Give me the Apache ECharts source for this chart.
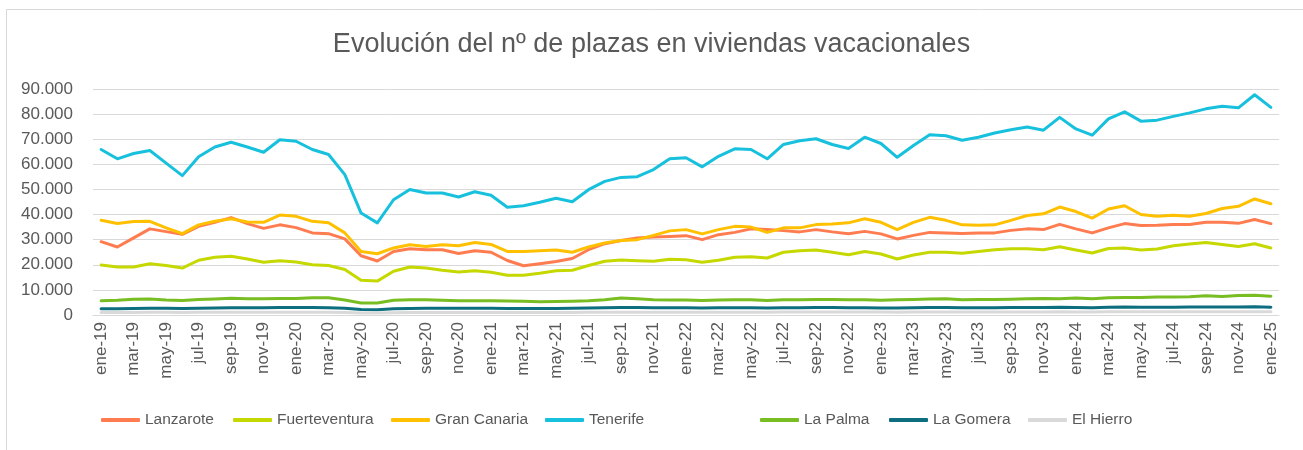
<!DOCTYPE html>
<html>
<head>
<meta charset="utf-8">
<script src="https://cdn.jsdelivr.net/npm/echarts@6/dist/echarts.min.js"></script>
<style>
  html, body { margin: 0; padding: 0; background: #ffffff; }
  #chart { width: 1303px; height: 450px; }
</style>
</head>
<body>
<div id="chart"></div>
<script>
// meses (ene-19 .. ene-25)
var meses = [
  'ene-19','feb-19','mar-19','abr-19','may-19','jun-19','jul-19','ago-19','sep-19','oct-19','nov-19','dic-19',
  'ene-20','feb-20','mar-20','abr-20','may-20','jun-20','jul-20','ago-20','sep-20','oct-20','nov-20','dic-20',
  'ene-21','feb-21','mar-21','abr-21','may-21','jun-21','jul-21','ago-21','sep-21','oct-21','nov-21','dic-21',
  'ene-22','feb-22','mar-22','abr-22','may-22','jun-22','jul-22','ago-22','sep-22','oct-22','nov-22','dic-22',
  'ene-23','feb-23','mar-23','abr-23','may-23','jun-23','jul-23','ago-23','sep-23','oct-23','nov-23','dic-23',
  'ene-24','feb-24','mar-24','abr-24','may-24','jun-24','jul-24','ago-24','sep-24','oct-24','nov-24','dic-24',
  'ene-25'
];

var lanzarote = [
  29200, 27100, 30700, 34300, 33200, 32100, 35300, 36900, 38800, 36400, 34500, 35900,
  34800, 32700, 32400, 30300, 23600, 21500, 25300, 26400, 26000, 26000, 24500, 25600,
  25000, 21700, 19600, 20400, 21300, 22500, 26000, 28400, 29700, 30700, 31100, 31300,
  31600, 30000, 32000, 32900, 34300, 34000, 33600, 33100, 34000, 33100, 32400, 33300,
  32300, 30300, 31700, 32900, 32700, 32500, 32700, 32700, 33700, 34300, 34000, 36100,
  34300, 32700, 34700, 36400, 35600, 35700, 36000, 36000, 36900, 36900, 36500, 38000,
  36400
];
var fuerteventura = [
  19900, 19100, 19100, 20400, 19700, 18700, 21800, 23000, 23400, 22300, 21000, 21600,
  21100, 20000, 19700, 18100, 13800, 13500, 17400, 19100, 18700, 17800, 17100, 17600,
  17000, 15800, 15800, 16600, 17600, 17800, 19700, 21400, 21900, 21600, 21400, 22200,
  22000, 21000, 21800, 23000, 23200, 22700, 25000, 25600, 25900, 25000, 24000, 25300,
  24300, 22300, 23900, 25000, 25000, 24600, 25300, 26000, 26400, 26400, 26000, 27200,
  25900, 24700, 26500, 26700, 25900, 26300, 27600, 28300, 28900, 28100, 27300, 28400,
  26700
];
var granCanaria = [
  37700, 36400, 37200, 37300, 34700, 32400, 35900, 37300, 38300, 37000, 36900, 39800,
  39300, 37300, 36700, 32700, 25300, 24400, 26700, 28000, 27300, 28000, 27600, 28900,
  28100, 25300, 25300, 25600, 25900, 25000, 27100, 28700, 29700, 30000, 31700, 33500,
  34000, 32300, 34000, 35300, 35000, 32900, 34700, 34700, 36000, 36200, 36700, 38300,
  36900, 34000, 36900, 38900, 37700, 35900, 35700, 35900, 37700, 39600, 40300, 43000,
  41200, 38600, 42200, 43500, 40000, 39300, 39700, 39300, 40400, 42400, 43300, 46200,
  44300
];
var tenerife = [
  65900, 62200, 64300, 65500, 60500, 55500, 63000, 66900, 68800, 66900, 64800, 69800,
  69200, 65900, 63900, 55900, 40600, 36700, 45900, 50000, 48600, 48600, 47000, 49100,
  47700, 42900, 43500, 44900, 46500, 45100, 49900, 53200, 54800, 55100, 57900, 62200,
  62600, 59000, 63200, 66200, 65900, 62200, 67900, 69400, 70200, 67900, 66300, 70800,
  68300, 62800, 67500, 71800, 71400, 69600, 70800, 72500, 73800, 74900, 73600, 78700,
  74100, 71600, 78100, 80900, 77200, 77600, 79100, 80500, 82100, 83100, 82500, 87700,
  82700
];
var laPalma = [
  5700, 5900, 6300, 6400, 6000, 5800, 6200, 6400, 6700, 6500, 6500, 6600,
  6600, 6900, 6900, 6000, 4800, 4800, 5900, 6100, 6100, 5900, 5700, 5700,
  5700, 5600, 5500, 5300, 5400, 5500, 5700, 6100, 6800, 6500, 6100, 6000,
  6000, 5800, 6000, 6100, 6100, 5800, 6100, 6100, 6200, 6200, 6100, 6100,
  5900, 6100, 6200, 6400, 6500, 6100, 6200, 6200, 6300, 6500, 6600, 6500,
  6800, 6500, 6900, 7000, 7000, 7200, 7200, 7300, 7700, 7400, 7800, 7900,
  7500
];
var laGomera = [
  2500, 2500, 2600, 2700, 2700, 2600, 2700, 2800, 2900, 2900, 2900, 3000,
  3000, 3000, 2900, 2700, 2200, 2100, 2500, 2600, 2700, 2700, 2700, 2700,
  2700, 2600, 2600, 2600, 2600, 2700, 2800, 2900, 3000, 3000, 2900, 2900,
  2900, 2800, 2900, 2900, 2900, 2800, 2900, 2900, 3000, 3000, 2900, 2900,
  2800, 2800, 2900, 3000, 3000, 2900, 2900, 2900, 3000, 3000, 3000, 3100,
  3000, 2900, 3100, 3200, 3100, 3100, 3100, 3200, 3200, 3200, 3200, 3300,
  3100
];
var elHierro = [
  1000, 1000, 1000, 1100, 1100, 1000, 1100, 1100, 1100, 1100, 1100, 1100,
  1100, 1100, 1100, 1000, 800, 800, 900, 1000, 1000, 1000, 1000, 1000,
  1000, 1000, 1000, 1000, 1000, 1000, 1100, 1100, 1100, 1100, 1100, 1100,
  1100, 1100, 1100, 1100, 1100, 1100, 1200, 1200, 1200, 1200, 1200, 1200,
  1200, 1100, 1200, 1200, 1200, 1200, 1200, 1200, 1200, 1200, 1200, 1300,
  1200, 1200, 1300, 1300, 1300, 1300, 1300, 1300, 1300, 1300, 1300, 1300,
  1300
];

var nombres = ['Lanzarote', 'Fuerteventura', 'Gran Canaria', 'Tenerife', 'La Palma', 'La Gomera', 'El Hierro'];
var valores = [lanzarote, fuerteventura, granCanaria, tenerife, laPalma, laGomera, elHierro];
var colores = ['#FF7C50', '#C5D800', '#FFC000', '#17C0DC', '#78BD22', '#0D6E80', '#D9D9D9'];
// posicion x de cada leyenda (como en Excel, no equiespaciadas)
var leyendaX = [101, 233, 391, 545, 760, 889, 1028];

var textColor = '#595959';
var fontBase = "'Liberation Sans', Arial, sans-serif";

var dom = document.getElementById('chart');
var myChart = echarts.init(dom, null, { renderer: 'canvas' });

var series = [];
var legends = [];
for (var i = 0; i < nombres.length; i++) {
  series.push({
    name: nombres[i],
    type: 'line',
    data: valores[i],
    showSymbol: false,
    symbol: 'none',
    color: colores[i],
    lineStyle: { width: 3, color: colores[i], cap: 'round', join: 'round' },
    emphasis: { disabled: true }
  });
  legends.push({
    data: [nombres[i]],
    left: leyendaX[i],
    top: 412,
    padding: 0,
    icon: 'roundRect',
    itemWidth: 39,
    itemHeight: 4,
    textStyle: {
      color: textColor,
      fontSize: 15.5,
      fontFamily: fontBase
    }
  });
}

var option = {
  backgroundColor: '#ffffff',
  animation: false,
  title: {
    text: 'Evolución del nº de plazas en viviendas vacacionales',
    left: 'center',
    top: 26,
    textStyle: {
      color: textColor,
      fontWeight: 'normal',
      fontSize: 27,
      fontFamily: fontBase
    }
  },
  graphic: [{
    type: 'rect',
    left: 4,
    top: 7,
    shape: { width: 1400, height: 500 },
    style: { fill: 'none', stroke: '#D9D9D9', lineWidth: 1 },
    silent: true
  }],
  legend: legends,
  grid: {
    left: 93,
    right: 24,
    top: 89,
    bottom: 135
  },
  xAxis: {
    type: 'category',
    boundaryGap: true,
    data: meses,
    axisLine: { lineStyle: { color: '#D9D9D9', width: 1 } },
    axisTick: { show: false },
    axisLabel: {
      interval: 1,
      rotate: 90,
      margin: 7,
      color: textColor,
      fontSize: 17,
      fontFamily: fontBase
    }
  },
  yAxis: {
    type: 'value',
    min: 0,
    max: 90000,
    interval: 10000,
    axisLine: { show: false },
    axisTick: { show: false },
    splitLine: { lineStyle: { color: '#D9D9D9', width: 1 } },
    axisLabel: {
      margin: 20,
      color: textColor,
      fontSize: 17,
      fontFamily: fontBase,
      formatter: function (v) {
        return v === 0 ? '0' : (v / 1000) + '.000';
      }
    }
  },
  series: series
};

if (option && typeof option === 'object') {
  myChart.setOption(option);
}
</script>
</body>
</html>
